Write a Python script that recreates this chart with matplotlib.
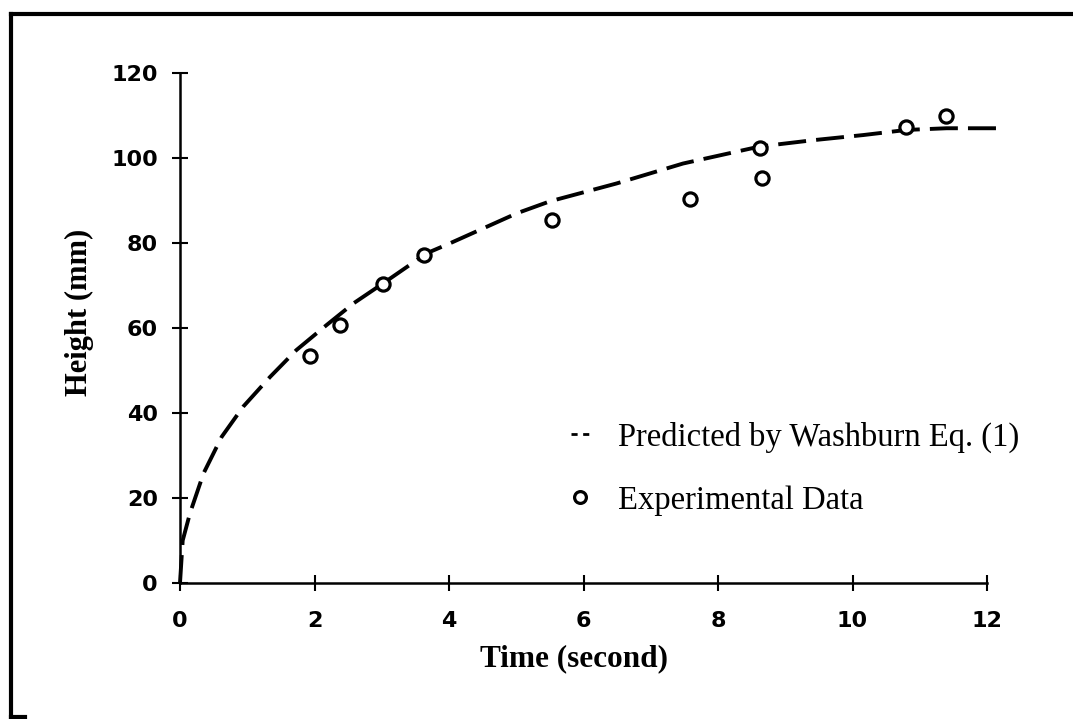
import matplotlib
matplotlib.use("Agg")
import matplotlib.pyplot as plt
from matplotlib.lines import Line2D

# Predicted curve (Washburn Eq. 1)
pred_t = [0, 0.04, 0.15, 0.35, 0.62, 0.94, 1.34, 1.73, 2.18, 2.58, 3.02, 3.67,
          4.01, 5.01, 5.50, 6.49, 7.48, 8.62, 9.42, 10.16, 10.8, 11.4, 12.19]
pred_h = [0, 10, 16.5, 25.8, 34.4, 41.5, 48.5, 54.8, 60.7, 65.8, 70.5, 77.6,
          79.9, 87, 89.8, 94, 98.7, 102.7, 104.2, 105.4, 106.6, 107, 107.0]

# Experimental data
exp_t = [1.93, 2.38, 3.02, 3.63, 5.53, 7.58, 8.62, 8.65, 10.8, 11.39]
exp_h = [53.3, 60.7, 70.4, 77.2, 85.4, 90.4, 102.4, 95.4, 107.4, 110.0]

xticks = [0, 2, 4, 6, 8, 10, 12]
yticks = [0, 20, 40, 60, 80, 100, 120]

W, H = 1073, 719
fig = plt.figure(figsize=(W / 100, H / 100), dpi=100)
ax = fig.add_axes([180 / W, (H - 583) / H, 807 / W, 510 / H])

ax.plot(pred_t, pred_h, color="black", lw=2.8, ls="--", dashes=(7.2, 2.6),
        dash_capstyle="butt", clip_on=False, zorder=2)
ax.plot(exp_t, exp_h, ls="none", marker="o", ms=9.5, mfc="white", mec="black",
        mew=2.3, clip_on=False, zorder=3)

ax.set_xlim(0, 12)
ax.set_ylim(0, 120)
ax.set_xticks(xticks)
ax.set_yticks(yticks)
for s in ("top", "right"):
    ax.spines[s].set_visible(False)
for s in ("left", "bottom"):
    ax.spines[s].set_linewidth(1.8)
ax.tick_params(direction="inout", length=12, width=1.5)
ax.tick_params(axis="x", pad=14)
ax.tick_params(axis="y", pad=10)
for lab in ax.get_xticklabels() + ax.get_yticklabels():
    lab.set_fontfamily("DejaVu Sans")
    lab.set_fontweight("bold")
    lab.set_fontsize(16)

ax.set_xlabel("Time (second)", fontfamily="Liberation Serif", fontweight="bold", fontsize=22.5)
ax.set_ylabel("Height (mm)", fontfamily="Liberation Serif", fontweight="bold", fontsize=22)
ax.xaxis.set_label_coords(0.488, -0.12)
ax.yaxis.set_label_coords(-0.106, 0.53)

handles = [
    Line2D([], [], color="black", lw=2.0, ls=(0, (2.2, 2.0))),
    Line2D([], [], ls="none", marker="o", ms=8.5, mfc="white", mec="black", mew=2.3),
]
labels = ["Predicted by Washburn Eq. (1)", "Experimental Data"]
ax.legend(handles, labels, loc="upper left", bbox_to_anchor=(0.484, 0.316),
          frameon=False, borderaxespad=0, borderpad=0, handlelength=0.55,
          handletextpad=0.9, labelspacing=0.98,
          prop={"family": "Liberation Serif", "size": 23.5})

# page border (left and top edges, short bottom stub)
def px(x, y):
    return x / W, 1 - y / H
border = [((11, 14), (1073, 14)), ((11, 14), (11, 717)), ((11, 717), (25, 717))]
for (a, b) in border:
    (x0, y0), (x1, y1) = px(*a), px(*b)
    fig.add_artist(Line2D([x0, x1], [y0, y1], transform=fig.transFigure,
                          color="black", lw=3))

fig.savefig("out.png", dpi=100)
